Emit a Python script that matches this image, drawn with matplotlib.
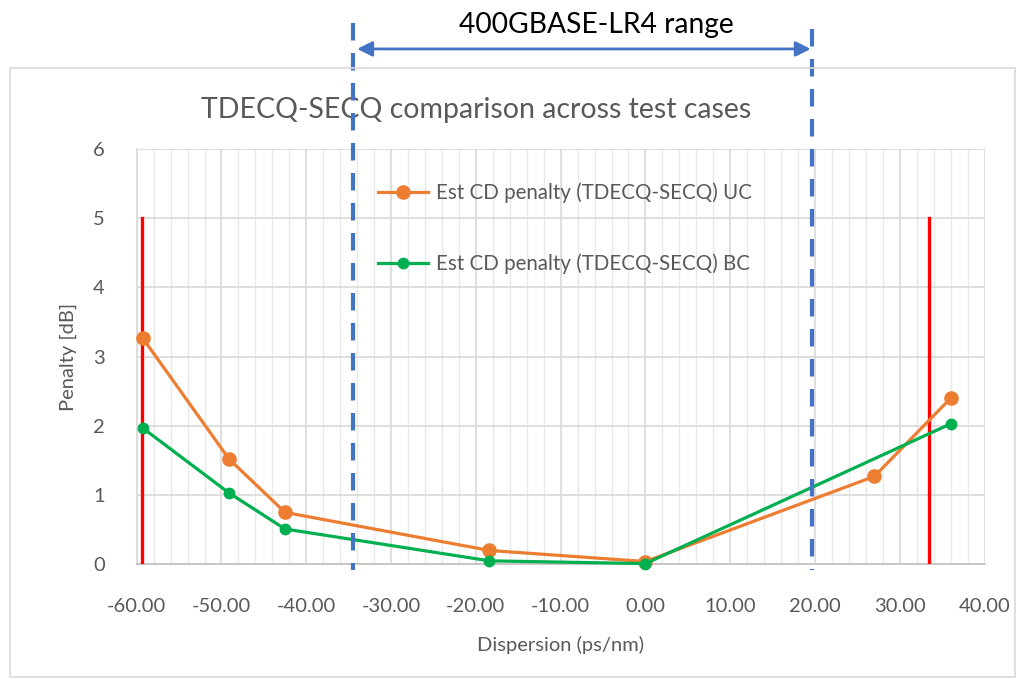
import matplotlib
matplotlib.use("Agg")
import matplotlib.pyplot as plt
import matplotlib.transforms as mtransforms
from matplotlib.patches import Rectangle
from matplotlib.ticker import MultipleLocator, FuncFormatter

# ---- data ----
dispersion_uc = [-59.3, -49.1, -42.5, -18.4, 0.0, 27.0, 36.0]
penalty_uc = [3.27, 1.52, 0.75, 0.20, 0.04, 1.27, 2.40]
dispersion_bc = [-59.3, -49.1, -42.5, -18.4, 0.0, 36.0]
penalty_bc = [1.97, 1.03, 0.51, 0.05, 0.01, 2.03]
label_uc = "Est CD penalty (TDECQ-SECQ) UC"
label_bc = "Est CD penalty (TDECQ-SECQ) BC"
red_limits = [-59.4, 33.5]
red_height = 5
lr4_range = [-34.5, 19.7]
title = "TDECQ-SECQ comparison across test cases"
xlabel = "Dispersion (ps/nm)"
ylabel = "Penalty [dB]"
range_label = "400GBASE-LR4 range"

FONT = ["Lato", "DejaVu Sans"]
GRAY = "#595959"
ORANGE = "#ED7D31"
GREEN = "#00B050"
BLUE = "#4472C4"

plt.rcParams['font.family'] = FONT

fig = plt.figure(figsize=(10.2, 6.78), dpi=100)
ax = fig.add_axes([0.134, 0.1677, 0.8313, 0.6125])

# chart border
fig.patches.append(Rectangle((0.0098, 0.0015), 0.985, 0.898, transform=fig.transFigure,
                             fill=False, edgecolor="#d9d9d9", linewidth=1.2, zorder=0))

ax.set_xlim(-60, 40)
ax.set_ylim(0, 6)
ax.xaxis.set_major_locator(MultipleLocator(10))
ax.xaxis.set_minor_locator(MultipleLocator(2))
ax.yaxis.set_major_locator(MultipleLocator(1))
ax.grid(which="major", axis="both", color="#d9d9d9", linewidth=1.2)
ax.grid(which="minor", axis="x", color="#e9e9e9", linewidth=1.0)
ax.set_axisbelow(True)
for s in ["top", "right"]:
    ax.spines[s].set_visible(False)
ax.spines["left"].set_color("#d9d9d9")
ax.spines["bottom"].set_color("#bfbfbf")
ax.spines["left"].set_linewidth(1.2)
ax.spines["bottom"].set_linewidth(1.2)
ax.tick_params(which="both", length=0)
ax.tick_params(axis="x", pad=24, labelsize=14.5, labelcolor=GRAY)
ax.tick_params(axis="y", pad=23, labelsize=14.5, labelcolor=GRAY)
ax.xaxis.set_major_formatter(FuncFormatter(lambda v, p: f"{v:.2f}"))
ax.yaxis.set_major_formatter(FuncFormatter(lambda v, p: f"{v:.0f}"))

# red limit lines
for xv in red_limits:
    ax.plot([xv, xv], [0, red_height], color="#FF0000", linewidth=2.4, zorder=3)

# data series
ax.plot(dispersion_uc, penalty_uc, color=ORANGE, linewidth=2.3, marker="o",
        markersize=9.5, label=label_uc, zorder=4, clip_on=False)
ax.plot(dispersion_bc, penalty_bc, color=GREEN, linewidth=2.3, marker="o",
        markersize=7.5, label=label_bc, zorder=5, clip_on=False)

leg = ax.legend(loc="upper left", bbox_to_anchor=(0.285, 0.92), frameon=False,
                fontsize=14.8, handlelength=2.4, handletextpad=0.4, labelspacing=2.47,
                borderpad=0, borderaxespad=0)
for t in leg.get_texts():
    t.set_color(GRAY)

# title and axis labels
ax.text(0.4, 1.094, title, transform=ax.transAxes, ha="center", va="center",
        fontsize=20.5, color=GRAY)
ax.set_xlabel(xlabel, fontsize=14.5, color=GRAY)
ax.xaxis.set_label_coords(0.5, -0.194)
ax.xaxis.label.set_va("center")
ax.set_ylabel(ylabel, fontsize=14.5, color=GRAY)
ax.yaxis.set_label_coords(-0.081, 0.499)
ax.yaxis.label.set_va("center")

# LR4 range dashed lines and arrow (outside axes)
trans = mtransforms.blended_transform_factory(ax.transData, ax.transAxes)
tops = [1.303, 1.29]
for xv, top in zip(lr4_range, tops):
    ax.plot([xv, xv], [top, -0.014], transform=trans, color=BLUE, linewidth=3,
            dashes=(4.2, 3.0), clip_on=False, zorder=6)
ax.annotate("", xy=(lr4_range[0] + 0.5, 1.241), xytext=(lr4_range[1] - 0.2, 1.241),
            xycoords=trans, textcoords=trans,
            arrowprops=dict(arrowstyle="<|-|>,head_length=0.9,head_width=0.45",
                            color=BLUE, linewidth=2, shrinkA=0, shrinkB=0))
fig.text(0.585, 0.963, range_label, ha="center", va="center", fontsize=20.3, color="black")

fig.savefig("out.png", dpi=100)
